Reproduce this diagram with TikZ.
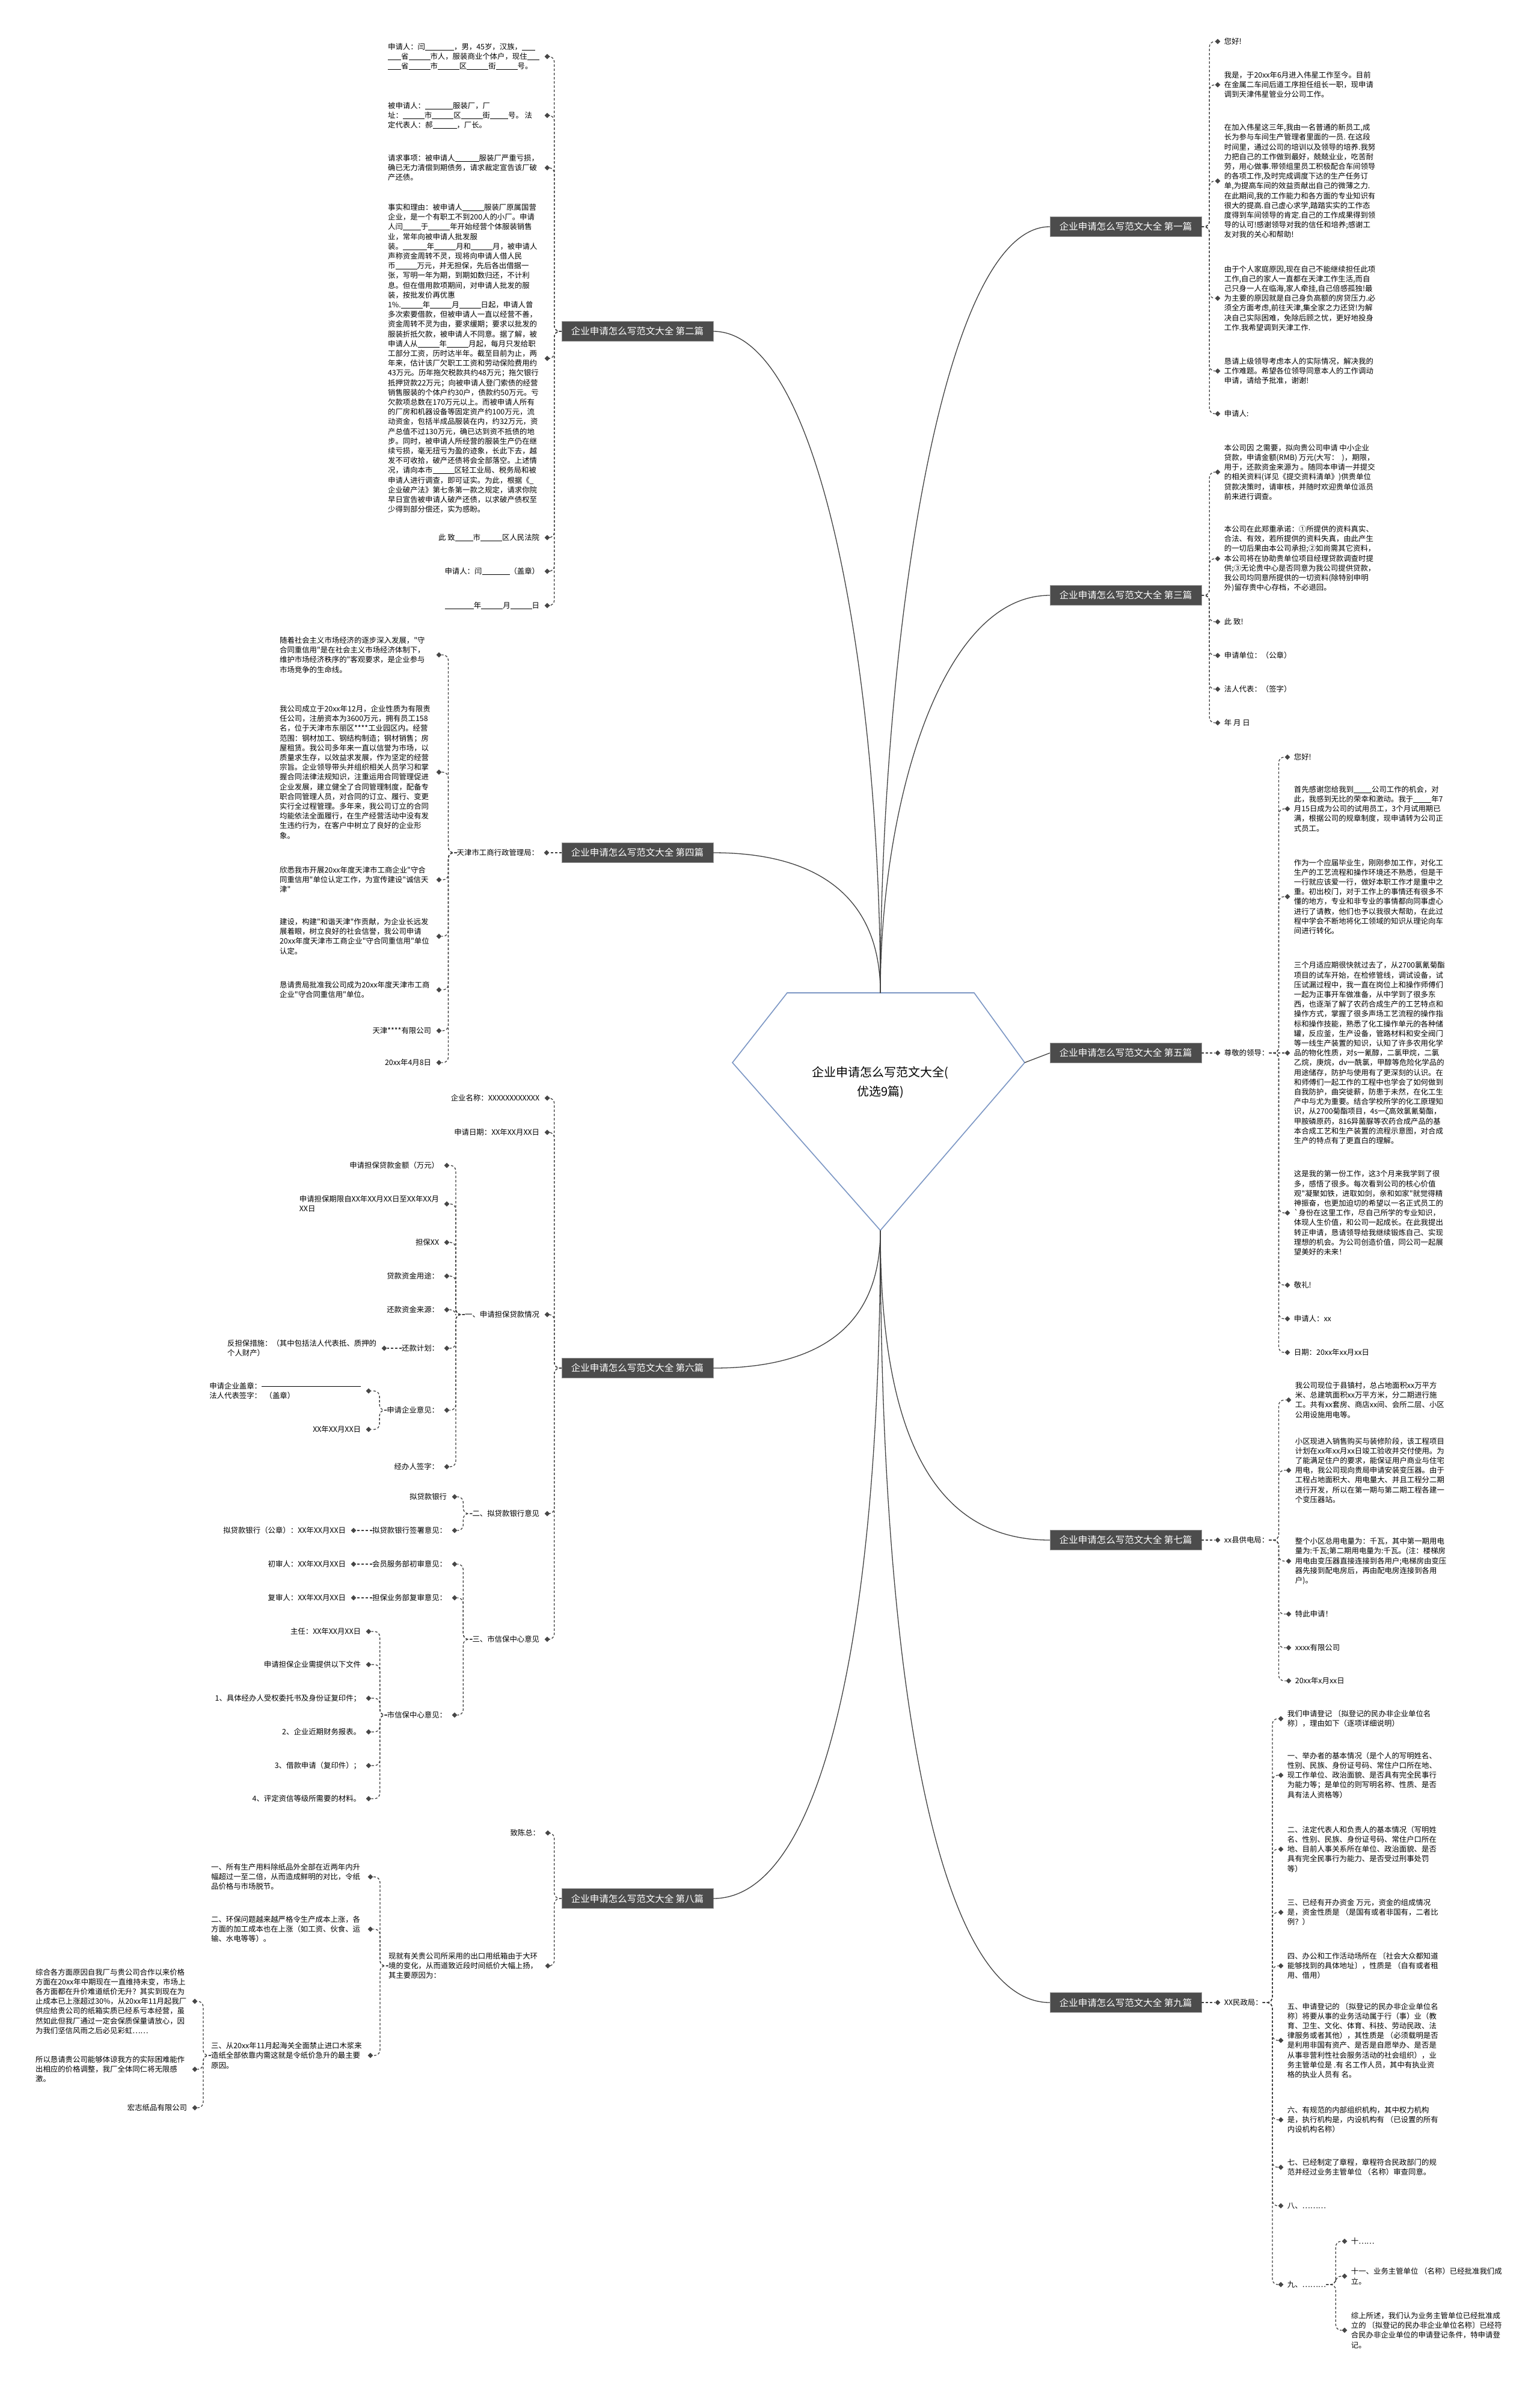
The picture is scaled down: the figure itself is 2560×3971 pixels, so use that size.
\documentclass[tikz,border=0pt]{standalone}
\usepackage{fontspec}
\usetikzlibrary{positioning,shapes.geometric}
\newfontfamily\cjk{Noto Sans CJK SC}
\XeTeXlinebreaklocale "zh"
\XeTeXlinebreakskip=0pt plus 0.3pt
\newcommand\fillin[1]{\rule[-1.2pt]{#1pt}{0.6pt}}
\definecolor{hubblue}{HTML}{7B96C4}
\tikzset{
  pian/.style={
    shape = rectangle,
    draw = black!40,
    fill = black!70,
    text = white,
    font = \cjk\fontsize{15.5pt}{16pt}\selectfont,
    minimum width = 252pt,
    minimum height = 33pt,
    inner sep = 0pt
  },
  hub/.style={
    draw = hubblue,
    line width = 1.6pt,
    fill = white
  },
  trunk/.style={
    draw = black!75,
    line width = 1.3pt
  },
  twig/.style={
    draw = black!75,
    line width = 1.3pt,
    dash pattern = on 4pt off 3pt,
    rounded corners = 9pt
  },
  dot/.style={
    shape = diamond,
    fill = black!72,
    inner sep = 0pt,
    minimum size = 9pt
  },
  leaf/.style={
    font = \cjk\fontsize{12.4pt}{16.2pt}\selectfont,
    inner sep = 0pt,
    align = flush left
  },
  para/.style={
    leaf,
    text width = 252pt
  }
}

\begin{document}
\begin{tikzpicture}[x=1pt, y=-1pt]
  \fill[white] (0,0) rectangle (2560,3971);
  \useasboundingbox (0,0) rectangle (2560,3971);

  % centre
  \draw[hub] (1309,1651) -- (1620,1651) -- (1704,1767) -- (1464,2046) -- (1218,1767) -- cycle;
  \node[font=\cjk\fontsize{20pt}{32pt}\selectfont, align=center] (hubtext) at (1464,1800) {企业申请怎么写范文大全(\\优选9篇)};
  \coordinate (hubtop) at (1464,1651);
  \coordinate (hubbot) at (1464,2046);
  \coordinate (hubright) at (1704,1767);

  % branches
  \node[pian] (b1) at (1872,377) {企业申请怎么写范文大全 第一篇};
  \node[pian] (b3) at (1872,990) {企业申请怎么写范文大全 第三篇};
  \node[pian] (b5) at (1872,1751) {企业申请怎么写范文大全 第五篇};
  \node[pian] (b7) at (1872,2561) {企业申请怎么写范文大全 第七篇};
  \node[pian] (b9) at (1872,3330) {企业申请怎么写范文大全 第九篇};
  \node[pian] (b2) at (1060,551) {企业申请怎么写范文大全 第二篇};
  \node[pian] (b4) at (1060,1418) {企业申请怎么写范文大全 第四篇};
  \node[pian] (b6) at (1060,2275) {企业申请怎么写范文大全 第六篇};
  \node[pian] (b8) at (1060,3157) {企业申请怎么写范文大全 第八篇};

  \draw[trunk] (hubtop) .. controls (1464,1100) and (1560,377) .. (b1.west);
  \draw[trunk] (hubtop) .. controls (1464,1350) and (1560,990) .. (b3.west);
  \draw[trunk] (hubright) -- (b5.west);
  \draw[trunk] (hubbot) .. controls (1464,2400) and (1560,2561) .. (b7.west);
  \draw[trunk] (hubbot) .. controls (1464,2800) and (1560,3330) .. (b9.west);
  \draw[trunk] (hubtop) .. controls (1464,1150) and (1370,551) .. (b2.east);
  \draw[trunk] (hubtop) .. controls (1464,1500) and (1370,1418) .. (b4.east);
  \draw[trunk] (hubbot) .. controls (1464,2200) and (1370,2275) .. (b6.east);
  \draw[trunk] (hubbot) .. controls (1464,2700) and (1370,3157) .. (b8.east);

  % 第一篇
  \node[dot] (r1a-d) at (2025,69) {};
  \node[leaf, right=6pt of r1a-d] (r1a) {您好!};
  \node[dot] (r1b-d) at (2025,141) {};
  \node[para, right=6pt of r1b-d] (r1b) {我是，于20xx年6月进入伟星工作至今。目前在金属二车间后道工序担任组长一职，现申请调到天津伟星管业分公司工作。};
  \node[dot] (r1c-d) at (2025,301) {};
  \node[para, right=6pt of r1c-d] (r1c) {在加入伟星这三年,我由一名普通的新员工,成长为参与车间生产管理者里面的一员. 在这段时间里，通过公司的培训以及领导的培养.我努力把自己的工作做到最好，兢兢业业，吃苦耐劳，用心做事.带领组里员工积极配合车间领导的各项工作,及时完成调度下达的生产任务订单,为提高车间的效益贡献出自己的微薄之力.在此期间,我的工作能力和各方面的专业知识有很大的提高.自己虚心求学,踏踏实实的工作态度得到车间领导的肯定.自己的工作成果得到领导的认可!感谢领导对我的信任和培养;感谢工友对我的关心和帮助!};
  \node[dot] (r1d-d) at (2025,496) {};
  \node[para, right=6pt of r1d-d] (r1d) {由于个人家庭原因,现在自己不能继续担任此项工作,自己的家人一直都在天津工作生活,而自己只身一人在临海,家人牵挂,自己倍感孤独!最为主要的原因就是自己身负高额的房贷压力.必须全方面考虑,前往天津,集全家之力还贷!为解决自己实际困难，免除后顾之忧，更好地投身工作.我希望调到天津工作.};
  \node[dot] (r1e-d) at (2025,617) {};
  \node[para, right=6pt of r1e-d] (r1e) {恳请上级领导考虑本人的实际情况，解决我的工作难题。希望各位领导同意本人的工作调动申请，请给予批准，谢谢!};
  \node[dot] (r1f-d) at (2025,688) {};
  \node[leaf, right=6pt of r1f-d] (r1f) {申请人:};
  \foreach \c in {r1a,r1b,r1c,r1d,r1e,r1f}
    \draw[twig] (b1.east) -- ++(13,0) |- (\c-d);

  % 第三篇
  \node[dot] (r3a-d) at (2025,785) {};
  \node[para, right=6pt of r3a-d] (r3a) {本公司因 之需要，拟向贵公司申请 中小企业贷款，申请金额(RMB) 万元(大写：\ \ )，期限，用于，还款资金来源为 。随同本申请一并提交的相关资料(详见《提交资料清单》)供贵单位贷款决策时，请审核，并随时欢迎贵单位派员前来进行调查。};
  \node[dot] (r3b-d) at (2025,929) {};
  \node[para, right=6pt of r3b-d] (r3b) {本公司在此郑重承诺：①所提供的资料真实、合法、有效，若所提供的资料失真，由此产生的一切后果由本公司承担;②如尚需其它资料，本公司将在协助贵单位项目经理贷款调查时提供;③无论贵中心是否同意为我公司提供贷款，我公司均同意所提供的一切资料(除特别申明外)留存贵中心存档，不必退回。};
  \node[dot] (r3c-d) at (2025,1034) {};
  \node[leaf, right=6pt of r3c-d] (r3c) {此 致!};
  \node[dot] (r3d-d) at (2025,1090) {};
  \node[leaf, right=6pt of r3d-d] (r3d) {申请单位：（公章）};
  \node[dot] (r3e-d) at (2025,1146) {};
  \node[leaf, right=6pt of r3e-d] (r3e) {法人代表：（签字）};
  \node[dot] (r3f-d) at (2025,1202) {};
  \node[leaf, right=6pt of r3f-d] (r3f) {年 月 日};
  \foreach \c in {r3a,r3b,r3c,r3d,r3e,r3f}
    \draw[twig] (b3.east) -- ++(13,0) |- (\c-d);

  % 第五篇
  \node[dot] (n5-d) at (2025,1751) {};
  \node[leaf, right=6pt of n5-d] (n5) {尊敬的领导：};
  \draw[twig] (b5.east) -- (n5-d);
  \node[dot] (r5a-d) at (2141,1259) {};
  \node[leaf, right=6pt of r5a-d] (r5a) {您好!};
  \node[dot] (r5b-d) at (2141,1345) {};
  \node[para, right=6pt of r5b-d] (r5b) {首先感谢您给我到\fillin{30}公司工作的机会，对此，我感到无比的荣幸和激动。我于\fillin{30}年7月15日成为公司的试用员工，3个月试用期已满，根据公司的规章制度，现申请转为公司正式员工。};
  \node[dot] (r5c-d) at (2141,1491) {};
  \node[para, right=6pt of r5c-d] (r5c) {作为一个应届毕业生，刚刚参加工作，对化工生产的工艺流程和操作环境还不熟悉，但是干一行就应该爱一行，做好本职工作才是重中之重。初出校门，对于工作上的事情还有很多不懂的地方，专业和非专业的事情都向同事虚心进行了请教，他们也予以我很大帮助，在此过程中学会不断地将化工领域的知识从理论向车间进行转化。};
  \node[dot] (r5d-d) at (2141,1751) {};
  \node[para, right=6pt of r5d-d] (r5d) {三个月适应期很快就过去了，从2700氯氰菊酯项目的试车开始，在检修管线，调试设备，试压试漏过程中，我一直在岗位上和操作师傅们一起为正事开车做准备，从中学到了很多东西，也逐渐了解了农药合成生产的工艺特点和操作方式，掌握了很多声场工艺流程的操作指标和操作技能，熟悉了化工操作单元的各种储罐，反应釜，生产设备，管路材料和安全阀门等一线生产装置的知识，认知了许多农用化学品的物化性质，对s一氰醇，二氯甲烷，二氯乙烷，庚烷，dv一酰氯，甲醇等危险化学品的用途储存，防护与使用有了更深刻的认识。在和师傅们一起工作的工程中也学会了如何做到自我防护，曲突徙薪，防患于未然，在化工生产中与尤为重要。结合学校所学的化工原理知识，从2700菊酯项目，4s一ζ高效氯氰菊酯，甲胺磷原药，816异菌脲等农药合成产品的基本合成工艺和生产装置的流程示意图，对合成生产的特点有了更直白的理解。};
  \node[dot] (r5e-d) at (2141,2017) {};
  \node[para, right=6pt of r5e-d] (r5e) {这是我的第一份工作，这3个月来我学到了很多，感悟了很多。每次看到公司的核心价值观"凝聚如铁，进取如剑，亲和如家"就觉得精神振奋，也更加迫切的希望以一名正式员工的`身份在这里工作，尽自己所学的专业知识，体现人生价值，和公司一起成长。在此我提出转正申请，恳请领导给我继续锻炼自己、实现理想的机会。为公司创造价值，同公司一起展望美好的未来！};
  \node[dot] (r5f-d) at (2141,2137) {};
  \node[leaf, right=6pt of r5f-d] (r5f) {敬礼!};
  \node[dot] (r5g-d) at (2141,2193) {};
  \node[leaf, right=6pt of r5g-d] (r5g) {申请人：xx};
  \node[dot] (r5h-d) at (2141,2249) {};
  \node[leaf, right=6pt of r5h-d] (r5h) {日期：20xx年xx月xx日};
  \foreach \c in {r5a,r5b,r5c,r5e,r5f,r5g,r5h}
    \draw[twig] (n5.east) -- ++(16,0) |- (\c-d);
  \draw[twig] (n5.east) -- (r5d-d);

  % 第七篇
  \node[dot] (n7-d) at (2025,2561) {};
  \node[leaf, right=6pt of n7-d] (n7) {xx县供电局：};
  \draw[twig] (b7.east) -- (n7-d);
  \node[dot] (r7a-d) at (2143,2328) {};
  \node[para, right=6pt of r7a-d] (r7a) {我公司现位于县镇村，总占地面积xx万平方米、总建筑面积xx万平方米，分二期进行施工。共有xx套房、商店xx间、会所二层、小区公用设施用电等。};
  \node[dot] (r7b-d) at (2143,2445) {};
  \node[para, right=6pt of r7b-d] (r7b) {小区现进入销售购买与装修阶段，该工程项目计划在xx年xx月xx日竣工验收并交付使用。为了能满足住户的要求，能保证用户商业与住宅用电，我公司现向贵局申请安装变压器。由于工程占地面积大、用电量大、并且工程分二期进行开发，所以在第一期与第二期工程各建一个变压器站。};
  \node[dot] (r7c-d) at (2143,2596) {};
  \node[para, right=6pt of r7c-d] (r7c) {整个小区总用电量为：千瓦，其中第一期用电量为:千瓦;第二期用电量为:千瓦。(注：楼梯房用电由变压器直接连接到各用户;电梯房由变压器先接到配电房后，再由配电房连接到各用户)。};
  \node[dot] (r7d-d) at (2143,2684) {};
  \node[leaf, right=6pt of r7d-d] (r7d) {特此申请！};
  \node[dot] (r7e-d) at (2143,2740) {};
  \node[leaf, right=6pt of r7e-d] (r7e) {xxxx有限公司};
  \node[dot] (r7f-d) at (2143,2795) {};
  \node[leaf, right=6pt of r7f-d] (r7f) {20xx年x月xx日};
  \foreach \c in {r7a,r7b,r7c,r7d,r7e,r7f}
    \draw[twig] (n7.east) -- ++(16,0) |- (\c-d);

  % 第九篇
  \node[dot] (n9-d) at (2025,3330) {};
  \node[leaf, right=6pt of n9-d] (n9) {XX民政局：};
  \draw[twig] (b9.east) -- (n9-d);
  \node[dot] (r9a-d) at (2130,2858) {};
  \node[para, right=6pt of r9a-d] (r9a) {我们申请登记 〔拟登记的民办非企业单位名称〕，理由如下（逐项详细说明）};
  \node[dot] (r9b-d) at (2130,2952) {};
  \node[para, right=6pt of r9b-d] (r9b) {一、举办者的基本情况（是个人的写明姓名、性别、民族、身份证号码、常住户口所在地、现工作单位、政治面貌、是否具有完全民事行为能力等；是单位的则写明名称、性质、是否具有法人资格等）};
  \node[dot] (r9c-d) at (2130,3075) {};
  \node[para, right=6pt of r9c-d] (r9c) {二、法定代表人和负责人的基本情况（写明姓名、性别、民族、身份证号码、常住户口所在地、目前人事关系所在单位、政治面貌、是否具有完全民事行为能力、是否受过刑事处罚等）};
  \node[dot] (r9d-d) at (2130,3180) {};
  \node[para, right=6pt of r9d-d] (r9d) {三、已经有开办资金 万元，资金的组成情况是，资金性质是 （是国有或者非国有，二者比例？）};
  \node[dot] (r9e-d) at (2130,3269) {};
  \node[para, right=6pt of r9e-d] (r9e) {四、办公和工作活动场所在 〔社会大众都知道能够找到的具体地址〕，性质是 （自有或者租用、借用）};
  \node[dot] (r9f-d) at (2130,3393) {};
  \node[para, right=6pt of r9f-d] (r9f) {五、申请登记的 〔拟登记的民办非企业单位名称〕将要从事的业务活动属于行（事）业（教育、卫生、文化、体育、科技、劳动民政、法律服务或者其他），其性质是 （必须载明是否是利用非国有资产、是否是自愿举办、是否是从事非营利性社会服务活动的社会组织），业务主管单位是 .有 名工作人员，其中有执业资格的执业人员有 名。};
  \node[dot] (r9g-d) at (2130,3525) {};
  \node[para, right=6pt of r9g-d] (r9g) {六、有规范的内部组织机构，其中权力机构是，执行机构是，内设机构有 （已设置的所有内设机构名称）};
  \node[dot] (r9h-d) at (2130,3604) {};
  \node[para, right=6pt of r9h-d] (r9h) {七、已经制定了章程，章程符合民政部门的规范并经过业务主管单位 （名称）审查同意。};
  \node[dot] (r9i-d) at (2130,3668) {};
  \node[leaf, right=6pt of r9i-d] (r9i) {八、………};
  \node[dot] (r9j-d) at (2130,3799) {};
  \node[leaf, right=6pt of r9j-d] (r9j) {九、………};
  \foreach \c in {r9a,r9b,r9c,r9d,r9e,r9f,r9g,r9h,r9i,r9j}
    \draw[twig] (n9.east) -- ++(16,0) |- (\c-d);
  \node[dot] (r9k-d) at (2236,3727) {};
  \node[leaf, right=6pt of r9k-d] (r9k) {十……};
  \node[dot] (r9l-d) at (2236,3785) {};
  \node[para, right=6pt of r9l-d] (r9l) {十一、业务主管单位 （名称）已经批准我们成立。};
  \node[dot] (r9m-d) at (2236,3875) {};
  \node[para, right=6pt of r9m-d] (r9m) {综上所述，我们认为业务主管单位已经批准成立的 〔拟登记的民办非企业单位名称〕已经符合民办非企业单位的申请登记条件，特申请登记。};
  \foreach \c in {r9k,r9l,r9m}
    \draw[twig] (r9j.east) -- ++(16,0) |- (\c-d);

  % 第二篇
  \node[dot] (l2a-d) at (910,94) {};
  \node[para, left=8pt of l2a-d] (l2a) {申请人：闫\fillin{48}，男，45岁，汉族，\fillin{22}\allowbreak\fillin{22}省\fillin{36}市人，服装商业个体户，现住\fillin{20}\allowbreak\fillin{22}省\fillin{36}市\fillin{36}区\fillin{36}街\fillin{36}号。};
  \node[dot] (l2b-d) at (910,192) {};
  \node[para, left=8pt of l2b-d] (l2b) {被申请人：\fillin{46}服装厂，厂址：\fillin{36}市\fillin{36}区\fillin{36}街\fillin{30}号。 法定代表人：郝\fillin{40}，厂长。};
  \node[dot] (l2c-d) at (910,279) {};
  \node[para, left=8pt of l2c-d] (l2c) {请求事项：被申请人\fillin{40}服装厂严重亏损，确已无力清偿到期债务，请求裁定宣告该厂破产还债。};
  \node[dot] (l2d-d) at (910,596) {};
  \node[para, left=8pt of l2d-d] (l2d) {事实和理由：被申请人\fillin{36}服装厂原属国营企业，是一个有职工不到200人的小厂。申请人闫\fillin{30}于\fillin{36}年开始经营个体服装销售业，常年向被申请人批发服装。\fillin{40}年\fillin{36}月和\fillin{36}月，被申请人声称资金周转不灵，现将向申请人借人民币\fillin{36}万元，并无担保，先后各出借据一张，写明一年为期，到期如数归还，不计利息。但在借用款项期间，对申请人批发的服装，按批发价再优惠1\%.\fillin{36}年\fillin{36}月\fillin{36}日起，申请人曾多次索要借款，但被申请人一直以经营不善，资金周转不灵为由，要求缓期；要求以批发的服装折抵欠款，被申请人不同意。据了解，被申请人从\fillin{36}年\fillin{36}月起，每月只发给职工部分工资，历时达半年。截至目前为止，两年来，估计该厂欠职工工资和劳动保险费用约43万元。历年拖欠税款共约48万元；拖欠银行抵押贷款22万元；向被申请人登门索债的经营销售服装的个体户约30户，债款约50万元。亏欠款项总数在170万元以上。而被申请人所有的厂房和机器设备等固定资产约100万元，流动资金，包括半成品服装在内，约32万元，资产总值不过130万元，确已达到资不抵债的地步。同时，被申请人所经营的服装生产仍在继续亏损，毫无扭亏为盈的迹象，长此下去，越发不可收拾，破产还债将会全部落空。上述情况，请向本市\fillin{36}区轻工业局、税务局和被申请人进行调查，即可证实。为此，根据《\_企业破产法》第七条第一款之规定，请求你院早日宣告被申请人破产还债，以求破产债权至少得到部分偿还，实为感盼。};
  \node[dot] (l2e-d) at (910,894) {};
  \node[leaf, left=8pt of l2e-d] (l2e) {此 致\fillin{30}市\fillin{36}区人民法院};
  \node[dot] (l2f-d) at (910,950) {};
  \node[leaf, left=8pt of l2f-d] (l2f) {申请人：闫\fillin{46}（盖章）};
  \node[dot] (l2g-d) at (910,1007) {};
  \node[leaf, left=8pt of l2g-d] (l2g) {\fillin{48}年\fillin{36}月\fillin{36}日};
  \foreach \c in {l2a,l2b,l2c,l2d,l2e,l2f,l2g}
    \draw[twig] (b2.west) -- ++(-12,0) |- (\c-d);

  % 第四篇
  \node[dot] (n4-d) at (909,1418) {};
  \node[leaf, left=8pt of n4-d] (n4) {天津市工商行政管理局：};
  \draw[twig] (b4.west) -- (n4-d);
  \node[dot] (l4a-d) at (730,1089) {};
  \node[para, left=8pt of l4a-d] (l4a) {随着社会主义市场经济的逐步深入发展，"守合同重信用"是在社会主义市场经济体制下，维护市场经济秩序的"客观要求，是企业参与市场竞争的生命线。};
  \node[dot] (l4b-d) at (730,1284) {};
  \node[para, left=8pt of l4b-d] (l4b) {我公司成立于20xx年12月，企业性质为有限责任公司，注册资本为3600万元，拥有员工158名，位于天津市东丽区****工业园区内。经营范围：钢材加工、钢结构制造；钢材销售；房屋租赁。我公司多年来一直以信誉为市场，以质量求生存，以效益求发展，作为坚定的经营宗旨。企业领导带头并组织相关人员学习和掌握合同法律法规知识，注重运用合同管理促进企业发展，建立健全了合同管理制度，配备专职合同管理人员，对合同的订立、履行、变更实行全过程管理。多年来，我公司订立的合同均能依法全面履行，在生产经营活动中没有发生违约行为，在客户中树立了良好的企业形象。};
  \node[dot] (l4c-d) at (730,1463) {};
  \node[para, left=8pt of l4c-d] (l4c) {欣悉我市开展20xx年度天津市工商企业"守合同重信用"单位认定工作，为宣传建设"诚信天津"};
  \node[dot] (l4d-d) at (730,1557) {};
  \node[para, left=8pt of l4d-d] (l4d) {建设，构建"和谐天津"作贡献，为企业长远发展着眼，树立良好的社会信誉，我公司申请20xx年度天津市工商企业"守合同重信用"单位认定。};
  \node[dot] (l4e-d) at (730,1646) {};
  \node[para, left=8pt of l4e-d] (l4e) {恳请贵局批准我公司成为20xx年度天津市工商企业"守合同重信用"单位。};
  \node[dot] (l4f-d) at (730,1714) {};
  \node[leaf, left=8pt of l4f-d] (l4f) {天津****有限公司};
  \node[dot] (l4g-d) at (730,1767) {};
  \node[leaf, left=8pt of l4g-d] (l4g) {20xx年4月8日};
  \foreach \c in {l4a,l4b,l4c,l4d,l4e,l4f,l4g}
    \draw[twig] (n4.west) -- ++(-14,0) |- (\c-d);

  % 第六篇
  \node[dot] (l6a-d) at (910,1826) {};
  \node[leaf, left=8pt of l6a-d] (l6a) {企业名称：XXXXXXXXXXXX};
  \node[dot] (l6b-d) at (910,1883) {};
  \node[leaf, left=8pt of l6b-d] (l6b) {申请日期：XX年XX月XX日};
  \node[dot] (l6c-d) at (910,2186) {};
  \node[leaf, left=8pt of l6c-d] (l6c) {一、申请担保贷款情况};
  \node[dot] (l6d-d) at (910,2517) {};
  \node[leaf, left=8pt of l6d-d] (l6d) {二、拟贷款银行意见};
  \node[dot] (l6e-d) at (910,2726) {};
  \node[leaf, left=8pt of l6e-d] (l6e) {三、市信保中心意见};
  \foreach \c in {l6a,l6b,l6c,l6d,l6e}
    \draw[twig] (b6.west) -- ++(-12,0) |- (\c-d);

  \node[dot] (l6c1-d) at (743,1938) {};
  \node[leaf, left=8pt of l6c1-d] (l6c1) {申请担保贷款金额（万元）};
  \node[dot] (l6c2-d) at (743,2002) {};
  \node[leaf, left=8pt of l6c2-d] (l6c2) {申请担保期限自XX年XX月XX日至XX年XX月\\XX日};
  \node[dot] (l6c3-d) at (743,2066) {};
  \node[leaf, left=8pt of l6c3-d] (l6c3) {担保XX};
  \node[dot] (l6c4-d) at (743,2122) {};
  \node[leaf, left=8pt of l6c4-d] (l6c4) {贷款资金用途：};
  \node[dot] (l6c5-d) at (743,2178) {};
  \node[leaf, left=8pt of l6c5-d] (l6c5) {还款资金来源：};
  \node[dot] (l6c6-d) at (743,2242) {};
  \node[leaf, left=8pt of l6c6-d] (l6c6) {还款计划：};
  \node[dot] (l6c7-d) at (743,2345) {};
  \node[leaf, left=8pt of l6c7-d] (l6c7) {申请企业意见：};
  \node[dot] (l6c8-d) at (743,2439) {};
  \node[leaf, left=8pt of l6c8-d] (l6c8) {经办人签字：};
  \foreach \c in {l6c1,l6c2,l6c3,l6c4,l6c5,l6c6,l6c7,l6c8}
    \draw[twig] (l6c.west) -- ++(-15,0) |- (\c-d);

  \node[dot] (l6c6a-d) at (639,2242) {};
  \node[leaf, left=8pt of l6c6a-d] (l6c6a) {反担保措施：（其中包括法人代表抵、质押的\\个人财产）};
  \draw[twig] (l6c6.west) -- (l6c6a-d);
  \node[dot] (l6c7a-d) at (613,2313) {};
  \node[leaf, left=8pt of l6c7a-d] (l6c7a) {申请企业盖章：\rule[4pt]{165pt}{0.6pt}\\法人代表签字：\ \ （盖章）};
  \node[dot] (l6c7b-d) at (613,2377) {};
  \node[leaf, left=8pt of l6c7b-d] (l6c7b) {XX年XX月XX日};
  \foreach \c in {l6c7a,l6c7b}
    \draw[twig] (l6c7.west) -- ++(-12,0) |- (\c-d);

  \node[dot] (l6d1-d) at (756,2489) {};
  \node[leaf, left=8pt of l6d1-d] (l6d1) {拟贷款银行};
  \node[dot] (l6d2-d) at (756,2545) {};
  \node[leaf, left=8pt of l6d2-d] (l6d2) {拟贷款银行签署意见：};
  \foreach \c in {l6d1,l6d2}
    \draw[twig] (l6d.west) -- ++(-15,0) |- (\c-d);
  \node[dot] (l6d2a-d) at (588,2545) {};
  \node[leaf, left=8pt of l6d2a-d] (l6d2a) {拟贷款银行（公章）：XX年XX月XX日};
  \draw[twig] (l6d2.west) -- (l6d2a-d);

  \node[dot] (l6e1-d) at (756,2601) {};
  \node[leaf, left=8pt of l6e1-d] (l6e1) {会员服务部初审意见：};
  \node[dot] (l6e2-d) at (756,2657) {};
  \node[leaf, left=8pt of l6e2-d] (l6e2) {担保业务部复审意见：};
  \node[dot] (l6e3-d) at (756,2852) {};
  \node[leaf, left=8pt of l6e3-d] (l6e3) {市信保中心意见：};
  \foreach \c in {l6e1,l6e2,l6e3}
    \draw[twig] (l6e.west) -- ++(-15,0) |- (\c-d);
  \node[dot] (l6e1a-d) at (588,2601) {};
  \node[leaf, left=8pt of l6e1a-d] (l6e1a) {初审人：XX年XX月XX日};
  \draw[twig] (l6e1.west) -- (l6e1a-d);
  \node[dot] (l6e2a-d) at (588,2657) {};
  \node[leaf, left=8pt of l6e2a-d] (l6e2a) {复审人：XX年XX月XX日};
  \draw[twig] (l6e2.west) -- (l6e2a-d);

  \node[dot] (l6f1-d) at (613,2713) {};
  \node[leaf, left=8pt of l6f1-d] (l6f1) {主任：XX年XX月XX日};
  \node[dot] (l6f2-d) at (613,2768) {};
  \node[leaf, left=8pt of l6f2-d] (l6f2) {申请担保企业需提供以下文件};
  \node[dot] (l6f3-d) at (613,2824) {};
  \node[leaf, left=8pt of l6f3-d] (l6f3) {1、具体经办人受权委托书及身份证复印件；};
  \node[dot] (l6f4-d) at (613,2880) {};
  \node[leaf, left=8pt of l6f4-d] (l6f4) {2、企业近期财务报表。};
  \node[dot] (l6f5-d) at (613,2936) {};
  \node[leaf, left=8pt of l6f5-d] (l6f5) {3、借款申请（复印件）；};
  \node[dot] (l6f6-d) at (613,2991) {};
  \node[leaf, left=8pt of l6f6-d] (l6f6) {4、评定资信等级所需要的材料。};
  \foreach \c in {l6f1,l6f2,l6f3,l6f4,l6f5,l6f6}
    \draw[twig] (l6e3.west) -- ++(-12,0) |- (\c-d);

  % 第八篇
  \node[dot] (l8a-d) at (911,3048) {};
  \node[leaf, left=8pt of l8a-d] (l8a) {致陈总：};
  \node[dot] (l8b-d) at (911,3269) {};
  \node[para, left=8pt of l8b-d] (l8b) {现就有关贵公司所采用的出口用纸箱由于大环境的变化，从而道致近段时间纸价大幅上扬，其主要原因为：};
  \foreach \c in {l8a,l8b}
    \draw[twig] (b8.west) -- ++(-12,0) |- (\c-d);
  \node[dot] (l8b1-d) at (616,3121) {};
  \node[para, left=8pt of l8b1-d] (l8b1) {一、所有生产用料除纸品外全部在近两年内升幅超过一至二倍，从而造成鲜明的对比，令纸品价格与市场脱节。};
  \node[dot] (l8b2-d) at (616,3208) {};
  \node[para, left=8pt of l8b2-d] (l8b2) {二、环保问题越来越严格令生产成本上涨，各方面的加工成本也在上涨（如工资、伙食、运输、水电等等）。};
  \node[dot] (l8b3-d) at (616,3418) {};
  \node[para, left=8pt of l8b3-d] (l8b3) {三、从20xx年11月起海关全面禁止进口木浆来造纸全部依靠内需这就是令纸价急升的最主要原因。};
  \foreach \c in {l8b1,l8b2,l8b3}
    \draw[twig] (l8b.west) -- ++(-14,0) |- (\c-d);
  \node[dot] (l8c1-d) at (324,3328) {};
  \node[para, left=8pt of l8c1-d] (l8c1) {综合各方面原因自我厂与贵公司合作以来价格方面在20xx年中期现在一直维持未变，市场上各方面都在升价难道纸价无升？其实到现在为止成本已上涨超过30\%，从20xx年11月起我厂供应给贵公司的纸箱实质已经系亏本经营，虽然如此但我厂通过一定会保质保量请放心，因为我们坚信风雨之后必见彩虹……};
  \node[dot] (l8c2-d) at (324,3441) {};
  \node[para, left=8pt of l8c2-d] (l8c2) {所以恳请贵公司能够体谅我方的实际困难能作出相应的价格调整，我厂全体同仁将无限感激。};
  \node[dot] (l8c3-d) at (324,3505) {};
  \node[leaf, left=8pt of l8c3-d] (l8c3) {宏志纸品有限公司};
  \foreach \c in {l8c1,l8c2,l8c3}
    \draw[twig] (l8b3.west) -- ++(-13,0) |- (\c-d);
\end{tikzpicture}
\end{document}
